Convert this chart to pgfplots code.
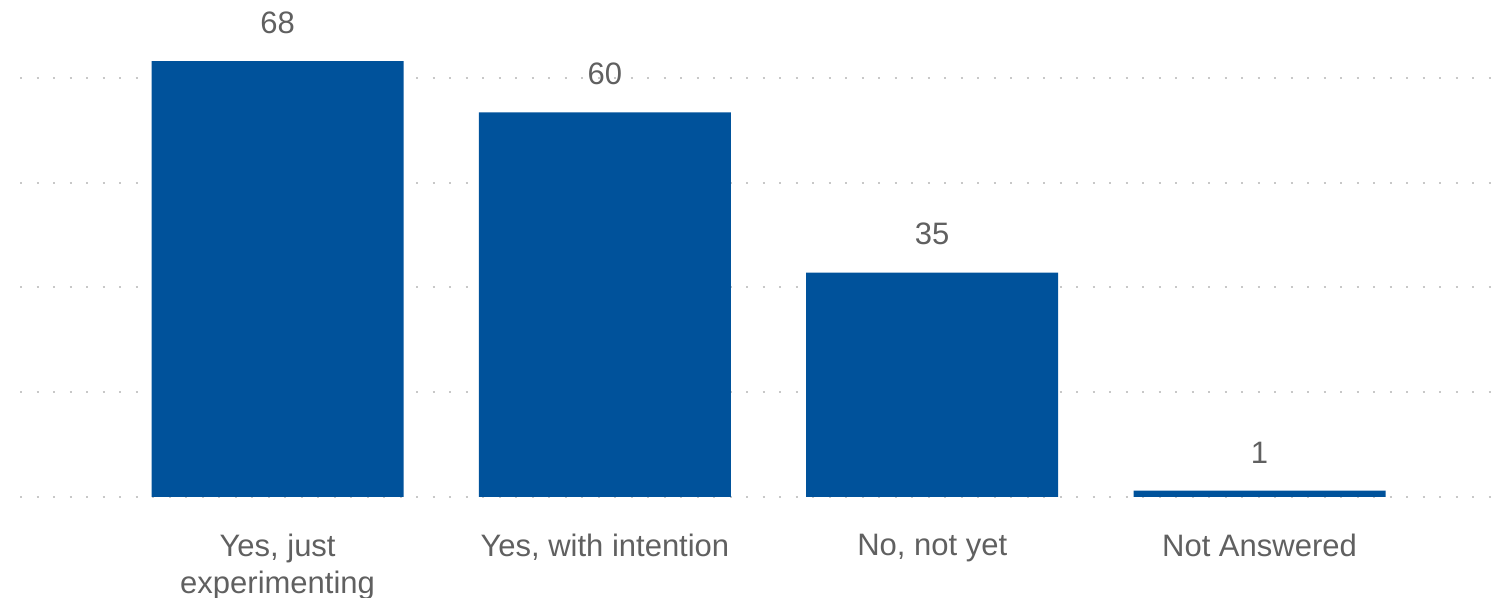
\documentclass[border=0pt]{standalone}
\usepackage{pgfplots}
\pgfplotsset{compat=1.18}
\usepackage{fontspec}
\setmainfont{Liberation Sans}
\definecolor{barblue}{RGB}{0,82,155}
\definecolor{txtgray}{RGB}{96,96,96}
\definecolor{gridgray}{RGB}{200,200,200}
\begin{document}
\begin{tikzpicture}
\useasboundingbox (0,0) rectangle (752pt,299pt);
\begin{axis}[
  at={(10pt,50.5pt)}, anchor=south west,
  scale only axis, width=742pt, height=240.4pt,
  xmin=-0.787, xmax=3.747, ymin=0, ymax=75,
  axis line style={draw=none},
  clip=false,
  ybar, bar width=126pt,
  xtick={0,1,2,3},
  xticklabels={{Yes, just\\experimenting},{Yes, with intention},{No, not yet},{Not Answered}},
  xticklabel style={anchor=north, inner sep=0pt, yshift=-18.5pt, align=center,
    font=\fontsize{15.5}{18.5}\selectfont, text=txtgray},
  ytick=\empty,
  major tick length=0pt,
  /pgf/number format/assume math mode=true,
  nodes near coords,
  every node near coord/.append style={anchor=south, inner sep=0pt, yshift=13.5pt,
    font=\fontsize{15.5}{18.5}\selectfont, text=txtgray},
]
\pgfplotsinvokeforeach{0,16.34,32.68,49.02,65.36}{
  \draw[gridgray, line width=1pt, dash pattern=on 1pt off 7.25pt] (axis cs:-0.787,#1) -- (axis cs:3.747,#1);
}
\addplot[fill=barblue, draw=none] coordinates {(0,68) (1,60) (2,35) (3,1)};
\end{axis}
\end{tikzpicture}
\end{document}
